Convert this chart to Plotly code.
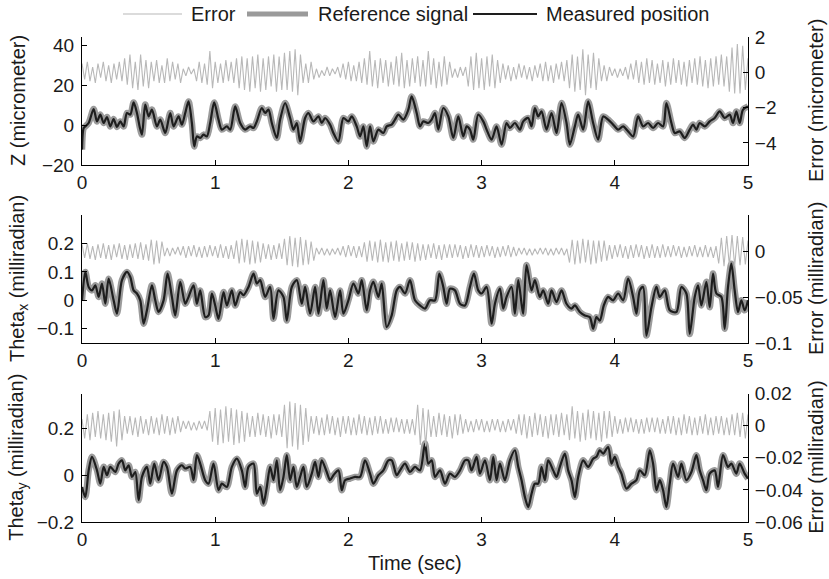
import plotly.graph_objects as go

# ---------------- data ----------------
# Panel 1: Z (micrometer) - measured position / reference signal
Z_t = [0, 0.0125, 0.025, 0.05, 0.0875, 0.1125, 0.1375, 0.1625, 0.1875, 0.2125,
       0.2375, 0.2625, 0.2875, 0.3125, 0.3375, 0.3625, 0.3875, 0.4125, 0.4325, 0.45,
       0.475, 0.5, 0.525, 0.5625, 0.5875, 0.625, 0.6625, 0.6875, 0.725, 0.75,
       0.775, 0.8, 0.825, 0.8425, 0.8625, 0.8875, 0.9125, 0.9375, 0.9625, 0.9925,
       1.025, 1.05, 1.0875, 1.1125, 1.15, 1.1875, 1.225, 1.2625, 1.2875, 1.3125,
       1.35, 1.375, 1.4, 1.425, 1.4625, 1.4875, 1.525, 1.5625, 1.5875, 1.6125,
       1.6375, 1.675, 1.7, 1.7375, 1.775, 1.8, 1.825, 1.8625, 1.8875, 1.925,
       1.9625, 2.0, 2.025, 2.0625, 2.0875, 2.1125, 2.1375, 2.1625, 2.1875, 2.225,
       2.2625, 2.2875, 2.325, 2.35, 2.375, 2.4125, 2.45, 2.475, 2.5125, 2.5375,
       2.5625, 2.6, 2.625, 2.65, 2.675, 2.7125, 2.75, 2.7875, 2.825, 2.8625,
       2.8875, 2.9125, 2.9375, 2.975, 3.0125, 3.0375, 3.075, 3.1125, 3.15, 3.1875,
       3.2125, 3.25, 3.2875, 3.3125, 3.35, 3.375, 3.4, 3.425, 3.45, 3.4875,
       3.525, 3.5625, 3.6, 3.6375, 3.6625, 3.7, 3.725, 3.7625, 3.8, 3.8375,
       3.875, 3.9125, 3.95, 3.9875, 4.025, 4.0625, 4.1, 4.1375, 4.175, 4.2125,
       4.25, 4.2875, 4.325, 4.3625, 4.3875, 4.425, 4.45, 4.4875, 4.525, 4.5625,
       4.5875, 4.6125, 4.6375, 4.675, 4.7125, 4.75, 4.7875, 4.825, 4.8625, 4.8875,
       4.9125, 4.9375, 4.9625, 5.0]
Z_meas = [-12.3, -1.5, -0.7, 1.0, 8.0, 1.8, 5.2, 1.0, 4.0, -0.7,
          3.0, -1.0, 1.8, -0.7, 6.0, 5.2, 11.3, 6.0, -0.7, -4.8,
          10.2, 4.3, 7.7, -0.7, 2.7, -4.0, 6.0, -0.7, 4.3, 0.2,
          6.0, 11.8, 1.0, -10.7, -5.7, -6.5, -4.8, -5.7, 1.0, 11.3,
          2.7, -2.3, -0.7, -2.3, 9.3, 1.0, -2.3, -0.7, -1.5, 1.8,
          8.5, 6.0, 7.7, 1.0, -6.5, 2.7, 11.0, 3.5, -2.3, 1.0,
          -8.2, 3.5, 6.0, 1.8, 4.3, 1.0, 3.5, 0.2, -4.0, -8.2,
          3.5, 1.8, 4.3, -0.7, -5.7, -0.7, -10.7, -0.7, -8.2, -2.3,
          -4.0, -0.7, 0.2, 2.7, 5.2, 2.7, 7.7, 14.3, 6.0, -0.7,
          1.8, 1.0, 2.7, 6.0, -2.3, 8.5, 4.3, -6.5, 4.3, -5.7,
          -0.7, -2.3, -7.3, 5.2, 1.8, -2.3, -7.3, -0.7, -9.8, 1.0,
          -1.5, 1.0, -2.3, 1.8, 3.5, -0.7, 8.5, 4.3, 6.8, -2.3,
          6.0, -4.0, 11.0, 1.0, -9.8, -0.7, 5.2, -2.3, 11.8, 1.0,
          -7.3, 4.3, 2.7, 0.2, -2.3, -0.7, -3.2, -5.7, 4.3, -0.7,
          1.0, -1.5, 1.0, -0.7, 11.0, 1.0, -4.0, -3.2, -6.5, -2.3,
          0.2, -2.3, 1.0, -0.7, 1.8, 3.5, 6.8, 3.5, 5.2, 1.0,
          6.8, 1.0, 7.7, 9.3]
Z_ref = list(Z_meas)

# Panel 2: Theta_x (milliradian)
TX_t = [0, 0.025, 0.05, 0.075, 0.1, 0.125, 0.15, 0.175, 0.2, 0.2375,
        0.2625, 0.3, 0.3375, 0.3625, 0.3875, 0.4125, 0.4375, 0.4625, 0.4875, 0.525,
        0.55, 0.575, 0.6125, 0.6425, 0.675, 0.7, 0.7375, 0.775, 0.8, 0.8375,
        0.8625, 0.8875, 0.925, 0.95, 0.975, 1.0, 1.025, 1.0625, 1.0875, 1.125,
        1.15, 1.1875, 1.2125, 1.25, 1.2875, 1.3125, 1.3375, 1.375, 1.4125, 1.4375,
        1.475, 1.5125, 1.5375, 1.575, 1.6125, 1.65, 1.675, 1.7125, 1.75, 1.775,
        1.8125, 1.8375, 1.8625, 1.9, 1.9375, 1.9625, 2.0, 2.0375, 2.075, 2.1,
        2.1375, 2.1625, 2.1875, 2.225, 2.25, 2.2875, 2.325, 2.3625, 2.3875, 2.425,
        2.4625, 2.5, 2.5375, 2.575, 2.6125, 2.65, 2.6825, 2.7125, 2.7375, 2.7625,
        2.8, 2.8375, 2.875, 2.9125, 2.9425, 2.975, 3.0, 3.0375, 3.075, 3.1,
        3.1375, 3.1625, 3.1875, 3.225, 3.25, 3.275, 3.3, 3.3125, 3.3375, 3.375,
        3.4, 3.4375, 3.4625, 3.5, 3.525, 3.5625, 3.6, 3.6375, 3.675, 3.7,
        3.7375, 3.775, 3.8125, 3.8375, 3.8625, 3.8875, 3.9175, 3.95, 3.9875, 4.025,
        4.0625, 4.1, 4.1375, 4.1625, 4.1875, 4.2125, 4.2375, 4.275, 4.3125, 4.3375,
        4.375, 4.4125, 4.4625, 4.5, 4.5375, 4.5625, 4.6, 4.625, 4.65, 4.6875,
        4.7125, 4.7375, 4.7625, 4.8, 4.825, 4.85, 4.875, 4.9, 4.925, 4.95,
        4.975, 5.0]
TX_meas = [0, 0.1, 0.047, 0.035, 0.053, 0.012, 0.059, -0.012, 0.076, 0,
           -0.047, 0.071, 0.1, 0.082, 0.035, 0.024, 0, -0.082, -0.035, 0.053,
           0, -0.041, 0, 0.094, 0.012, -0.053, 0.065, -0.012, 0.012, 0.053,
           -0.012, 0.035, -0.059, -0.053, 0.024, -0.018, -0.065, 0.029, -0.018, 0.035,
           -0.018, 0.029, 0.018, 0.047, 0.094, 0.059, 0.071, 0.012, 0.047, -0.065,
           0.035, 0.012, -0.071, 0.047, 0.071, -0.012, 0.047, -0.047, 0.047, -0.047,
           0.071, -0.029, 0.035, -0.059, 0.035, -0.047, 0, 0.059, 0.024, 0.071,
           -0.035, 0.035, 0.065, 0.012, 0.059, -0.094, -0.053, 0.035, 0.047, 0.024,
           0.071, 0, -0.018, -0.029, 0, 0, 0.094, 0.047, -0.012, 0.041,
           0.035, -0.012, -0.018, 0.047, 0.094, 0.035, 0.024, 0.047, -0.082, -0.012,
           0.041, -0.029, 0.012, 0.047, -0.047, 0.071, -0.012, -0.047, 0.124, 0.035,
           0.071, 0.012, 0.035, -0.012, 0.035, -0.006, 0.035, -0.012, -0.029, -0.018,
           -0.041, -0.053, -0.059, -0.1, -0.059, -0.071, -0.018, 0.012, 0, 0.024,
           0, 0.076, 0.012, -0.047, 0.035, 0.047, -0.124, -0.024, 0.047, 0.012,
           0.035, -0.035, -0.041, 0.047, 0.024, -0.118, 0.012, 0.053, -0.018, 0.065,
           -0.024, 0.094, 0.024, 0.012, -0.1, 0.047, 0.129, 0.035, -0.041, 0,
           -0.035, 0]
TX_ref = list(TX_meas)

# Panel 3: Theta_y (milliradian)
TY_t = [0, 0.025, 0.05, 0.075, 0.1125, 0.1375, 0.1625, 0.1875, 0.2125, 0.25,
        0.275, 0.3, 0.325, 0.35, 0.375, 0.4, 0.425, 0.45, 0.4875, 0.5125,
        0.5425, 0.575, 0.6125, 0.6375, 0.675, 0.7125, 0.75, 0.775, 0.8125, 0.8375,
        0.8625, 0.8875, 0.925, 0.95, 0.9875, 1.025, 1.05, 1.0875, 1.125, 1.1625,
        1.2, 1.225, 1.25, 1.2875, 1.3125, 1.3375, 1.3625, 1.3875, 1.4125, 1.4375,
        1.4625, 1.4875, 1.5125, 1.5375, 1.5625, 1.5875, 1.6125, 1.6375, 1.6625, 1.6875,
        1.725, 1.75, 1.775, 1.8, 1.8375, 1.8625, 1.8875, 1.925, 1.95, 1.975,
        2.0125, 2.05, 2.0875, 2.125, 2.1625, 2.1875, 2.225, 2.2625, 2.3, 2.325,
        2.3625,
        2.3875, 2.425, 2.4625, 2.5, 2.5375, 2.575, 2.6, 2.625, 2.65, 2.6875,
        2.725, 2.7625, 2.8, 2.8375, 2.875, 2.9, 2.925, 2.9625, 2.9875, 3.025,
        3.0625, 3.0875, 3.1125, 3.1375, 3.175, 3.2125, 3.25, 3.275, 3.3, 3.325,
        3.35, 3.375, 3.4, 3.425, 3.45, 3.475, 3.5, 3.5375, 3.5625, 3.5875,
        3.625, 3.65, 3.675, 3.7, 3.725, 3.7625, 3.8, 3.8375, 3.8625, 3.8875,
        3.9125, 3.95, 3.975, 4.0, 4.025, 4.05, 4.0875, 4.125, 4.1625, 4.1875,
        4.225, 4.2625, 4.2875, 4.3125, 4.3375, 4.3625, 4.3875, 4.4125, 4.4375, 4.475,
        4.5, 4.5375, 4.575, 4.6125, 4.6375, 4.6625, 4.6875, 4.7125, 4.75, 4.775,
        4.8125, 4.85, 4.875, 4.9125, 4.9375, 4.975, 5.0]
TY_meas = [-0.05, -0.093, 0.021, 0.079, 0.021, -0.036, 0.036, 0, 0.036, 0.014,
           0.05, 0.064, 0.021, 0.043, -0.007, 0.014, -0.107, -0.007, 0.036, -0.036,
           0.05, -0.021, 0.057, 0.036, -0.079, 0.021, 0.043, 0.029, 0.036, -0.021,
           0.086, 0.05, -0.021, -0.036, 0.05, -0.064, -0.036, -0.05, 0.036, 0.071,
           0.021, -0.05, 0.036, 0.05, -0.079, -0.05, -0.121, -0.05, 0.036, -0.021,
           0.064, -0.064, -0.007, 0.086, -0.021, 0.036, -0.05, -0.007, 0.036, -0.05,
           0.007, 0.057, -0.007, 0.064, 0.014, -0.021, 0, 0.021, -0.064, -0.021,
           -0.014, -0.007, -0.007, 0.064, 0.007, -0.036, 0, 0.021, 0.064, 0.064,
           0,
           0.021, 0.05, 0.014, 0.036, 0.021, 0.136, 0.05, 0.064, -0.007, 0.021,
           -0.036, 0.007, -0.007, 0.021, 0.064, 0.064, 0.021, 0.079, 0.007, 0.064,
           -0.021, 0.079, -0.021, 0.05, -0.021, 0.064, 0.107, 0.036, -0.021, -0.093,
           -0.136, -0.079, -0.036, -0.036, 0.036, -0.021, 0.064, 0.021, -0.007, 0.036,
           0.093, 0.021, -0.021, -0.093, -0.007, 0.064, 0.036, 0.071, 0.079, 0.107,
           0.093, 0.121, 0.05, 0.079, 0.036, 0.007, -0.057, -0.036, -0.021, 0.021,
           0, 0.107, 0.05, -0.064, -0.021, -0.064, -0.136, -0.036, 0.05, -0.007,
           0.05, -0.021, 0.014, 0.086, 0.021, -0.021, -0.064, 0.007, 0.021, -0.05,
           0.086, 0.036, 0.05, 0.007, 0.05, 0.007, -0.014]
TY_ref = list(TY_meas)

ERR_DT = 0.02
E_z = [0.5, -0.4, 0.6, -0.5, 0.3, -0.6, 0.5, -0.3, 0.6, -0.5, 0.4, -0.6, 0.5, -0.4, 0.6, -0.5,
       0.8, -0.7, 1.0, -0.9, 0.6, -1.0, 1.0, -0.8, 0.7, -0.9,
       0.6, -0.5, 0.7, -0.6, 0.4, -0.6, 0.8, -0.5, 0.6, -0.4, 0.5, -0.6,
       0.2, -0.2, 0.3, -0.1, 0.2,
       -0.5, 0.6, -0.6, 0.5, -0.7, 1.2, -0.9, 0.6,
       -0.6, 0.5, -0.6, 0.7, -0.5, 0.6, -0.6,
       0.8, -0.9, 0.9, -1.0, 0.8, -1.1, 0.9, -0.9, 1.0, -1.1, 0.8, -1.0, 0.9, -0.8, 1.0, -1.1, 0.9, -1.0,
       1.1, -1.0, 1.2, -1.1, 1.3, -1.3, 1.0,
       -0.6, 0.5, -0.6, 0.6, -0.4,
       0.2, -0.3, 0.1, -0.2, 0.3, -0.2, 0.2, -0.1, 0.3, -0.3,
       0.5, -0.4, 0.6, -0.5, 0.4, -0.5, 0.6, -0.6,
       0.8, -0.7, 1.2, -0.8, 0.7, -0.9, 0.8, -0.6, 0.7, -0.8, 0.6, -0.7, 0.9, -0.8, 1.1, -0.9, 0.7, -0.8, 0.8, -0.6, 0.9, -0.8,
       0.7, -0.8, 1.2, -0.7, 0.8, -0.9, 0.6, -0.8, 0.9, -0.7, 0.6,
       -0.3, 0.2, -0.3, 0.3, -0.2, 0.3,
       -0.8, 0.9, -1.0, 1.1, -0.9, 0.8, -1.0, 0.9, -0.8, 1.0, -0.9, 0.7, -0.6,
       0.5, -0.4, 0.4, -0.5, 0.3, -0.4, 0.5, -0.3, 0.4, -0.4, 0.3, -0.5, 0.4, -0.3, 0.5,
       -0.5, 0.6, -0.5, 0.4, -0.6, 0.5, -0.4, 0.6, -0.5, 0.7,
       -0.9, 1.0, -1.1, 0.9, -1.0, 1.3, -1.3, 1.0, -0.9, 1.1, -1.0, 0.8,
       -0.5, 0.4, -0.5, 0.3, -0.2, 0.2, -0.3, 0.2, -0.2, 0.3, -0.4, 0.5, -0.4,
       0.7, -0.6, 0.6, -0.7, 0.8, -0.6, 0.7, -0.7, 0.5, -0.6, 0.7, -0.8, 0.6, -0.7, 0.8, -0.6, 0.7, -0.7, 0.6, -0.8, 0.7, -0.6,
       0.8, -0.7, 0.9, -0.8, 0.7, -0.9, 0.8, -0.8, 0.9, -0.7, 1.0, -0.8, 0.9,
       -1.1, 1.4, -1.2, 1.6, -1.2, 1.5, -1.0, 0.8]
E_tx = [0.008, -0.007, 0.009, -0.008, 0.006, -0.009, 0.008, -0.007, 0.009, -0.008, 0.007, -0.009, 0.008,
        -0.006, 0.009, -0.008, 0.007, -0.009, 0.008, -0.007, 0.009, -0.008, 0.010, -0.009, 0.008, -0.010,
        0.013, -0.014, 0.012, -0.013, 0.011,
        -0.005, 0.004, -0.005, 0.004, -0.003, 0.005, -0.004,
        0.006, -0.007, 0.006, -0.005, 0.007, -0.006, 0.005, -0.007, 0.006, -0.006, 0.007, -0.005, 0.006,
        -0.007, 0.008, -0.007, 0.006, -0.008, 0.007, -0.008,
        0.012, -0.013, 0.014, -0.012, 0.013, -0.014, 0.012, -0.013, 0.011, -0.012,
        0.009, -0.008, 0.008, -0.009, 0.007, -0.008, 0.009, -0.008,
        0.014, -0.015, 0.017, -0.016, 0.015, -0.017, 0.016, -0.015, 0.013, -0.014, 0.011, -0.010,
        0.004, -0.003, 0.004, -0.004, 0.003, -0.004, 0.003, -0.003, 0.004, -0.004,
        0.006, -0.006, 0.007, -0.005, 0.006, -0.007, 0.006, -0.006,
        0.010, -0.011, 0.012, -0.010, 0.011, -0.012, 0.013, -0.011, 0.010, -0.012, 0.011,
        -0.010, 0.012, -0.011, 0.009, -0.010, 0.011, -0.009, 0.010, -0.011, 0.009, -0.010,
        0.008, -0.009, 0.008, -0.007, 0.009, -0.008, 0.007, -0.009, 0.008, -0.007, 0.008,
        -0.007, 0.008, -0.006, 0.007, -0.008, 0.006, -0.007, 0.008, -0.006, 0.007, -0.007, 0.006,
        -0.006, 0.007, -0.005, 0.006, -0.007, 0.005, -0.006, 0.006, -0.005, 0.007, -0.006, 0.005, -0.005,
        0.004, -0.003, 0.004, -0.004, 0.003, -0.004, 0.003, -0.003, 0.004, -0.003, 0.004, -0.004,
        0.003, -0.004, 0.004, -0.003, 0.004, -0.004, 0.003,
        -0.012, 0.013, -0.014, 0.012, -0.013, 0.014, -0.012, 0.013, -0.014, 0.012, -0.013, 0.012,
        -0.011, 0.012, -0.010,
        0.007, -0.008, 0.007, -0.006, 0.008, -0.007, 0.006, -0.008, 0.007, -0.007, 0.008,
        -0.006, 0.007, -0.008, 0.006, -0.007, 0.008, -0.007, 0.006, -0.007, 0.008, -0.006,
        0.006, -0.006, 0.007, -0.005, 0.006, -0.007, 0.005, -0.006, 0.006, -0.005,
        0.007, -0.006, 0.005, -0.006, 0.007, -0.006, 0.005, -0.007, 0.006,
        -0.013, 0.015, -0.016, 0.017, -0.015, 0.018, -0.016, 0.017, -0.015, 0.016, -0.014, 0.012]
E_ty = [0.004, -0.008, 0.007, -0.009, 0.008, -0.007, 0.009, -0.008, 0.007, -0.009, 0.008,
        -0.010, 0.009, -0.013, 0.010, -0.009,
        0.006, -0.005, 0.006, -0.006, 0.005, -0.007, 0.006, -0.005, 0.004, -0.006, 0.006,
        -0.005, 0.005, -0.006, 0.007, -0.005, 0.006, -0.006, 0.005, -0.005, 0.006, -0.004,
        0.003, -0.002, 0.003, -0.003, 0.002, -0.003, 0.003, -0.002, 0.003, -0.003,
        0.009, -0.010, 0.011, -0.012, 0.010, -0.011, 0.012, -0.010, 0.011, -0.012, 0.010,
        -0.011, 0.009, -0.010, 0.008,
        -0.007, 0.006, -0.007, 0.008, -0.006, 0.007, -0.007, 0.006, -0.008, 0.007, -0.006, 0.007, -0.007,
        0.013, -0.014, 0.015, -0.013, 0.014, -0.015, 0.013, -0.012, 0.011, -0.010,
        0.006, -0.005, 0.006, -0.006, 0.005, -0.006, 0.007, -0.005, 0.006, -0.006, 0.005, -0.007,
        0.006, -0.005, 0.006, -0.006, 0.005, -0.006, 0.007, -0.005, 0.006, -0.006, 0.005, -0.006,
        0.006, -0.005, 0.006,
        -0.005, 0.004, -0.005, 0.005, -0.004, 0.005, -0.004, 0.004, -0.005, 0.004, -0.005, 0.004, -0.006,
        0.013, -0.012, 0.011, -0.013, 0.010,
        -0.007, 0.006, -0.007, 0.008, -0.006, 0.007, -0.007, 0.006, -0.008, 0.007, -0.006, 0.007, -0.005, 0.004,
        -0.004, 0.003, -0.004, 0.004, -0.003, 0.004, -0.004, 0.003, -0.004, 0.004, -0.003, 0.004,
        -0.004, 0.003, -0.004, 0.004, -0.003, 0.004, -0.005,
        0.007, -0.006, 0.007, -0.008, 0.006, -0.007, 0.008, -0.006, 0.007, -0.007, 0.006, -0.008,
        0.007, -0.006, 0.007, -0.007, 0.008, -0.006, 0.007,
        -0.009, 0.012, -0.008, 0.009, -0.010, 0.008, -0.009, 0.010, -0.008, 0.009, -0.009, 0.008,
        -0.010, 0.009, -0.008, 0.009, -0.007, 0.006,
        -0.005, 0.004, -0.005, 0.005, -0.004, 0.005, -0.004, 0.004, -0.005, 0.004, -0.005, 0.005,
        -0.004, 0.005, -0.004, 0.005, -0.005, 0.004, -0.005,
        0.006, -0.005, 0.006, -0.006, 0.005, -0.006, 0.007, -0.005, 0.006, -0.006, 0.005, -0.006, 0.006,
        -0.005, 0.007, -0.006, 0.005, -0.006, 0.006, -0.005, 0.006, -0.006, 0.005, -0.006, 0.007, -0.006,
        0.008, -0.007, 0.008, -0.008, 0.007]

X_TICKS = [0, 1, 2, 3, 4, 5]
LEFT_TICKS = [[-20, 0, 20, 40], [-0.1, 0, 0.1, 0.2], [-0.2, 0, 0.2]]
LEFT_TEXT = [["−20", "0", "20", "40"], ["−0.1", "0", "0.1", "0.2"], ["−0.2", "0", "0.2"]]
RIGHT_TICKS = [[-4, -2, 0, 2], [-0.1, -0.05, 0], [-0.06, -0.04, -0.02, 0, 0.02]]
RIGHT_TEXT = [["−4", "−2", "0", "2"], ["−0.1", "−0.05", "0"], ["−0.06", "−0.04", "−0.02", "0", "0.02"]]
LEFT_RANGE = [[-20, 44], [-0.15, 0.3], [-0.2, 0.35]]
RIGHT_RANGE = [[-5.25, 2.0], [-0.1, 0.04], [-0.06, 0.02]]
LEFT_TITLES = ["Z (micrometer)", "Theta<sub>x</sub> (milliradian)", "Theta<sub>y</sub> (milliradian)"]
RIGHT_TITLES = ["Error (micrometer)", "Error (milliradian)", "Error (milliradian)"]
LEGEND_NAMES = ["Error", "Reference signal", "Measured position"]

# ---------------- styling / layout ----------------
W, H = 829, 579
ML, MR, MT, MB = 82, 81, 37, 57
PW, PH = W - ML - MR, H - MT - MB
FONT = "Liberation Sans, Arial, Helvetica, sans-serif"
TXT = "#1a1a1a"
ERR_COL = "#b8b8b8"
REF_COL = "#8a8a8a"
MEAS_COL = "#1e1e1e"
TICK_SIZE = 19
TITLE_SIZE = 20

def py2paper(py):
    return 1 - (py - MT) / PH

def px2paper(px):
    return (px - ML) / PW

panel_px = [(37, 165), (215, 343), (393.5, 522)]
domains = [[py2paper(b), py2paper(t)] for (t, b) in panel_px]
domains[2][0] = max(0, domains[2][0])

fig = go.Figure()

series = [(Z_t, Z_meas, Z_ref, E_z), (TX_t, TX_meas, TX_ref, E_tx), (TY_t, TY_meas, TY_ref, E_ty)]
for i, (tt, meas, ref, err) in enumerate(series):
    xa = "x" if i == 0 else f"x{i+1}"
    yl = "y" if i == 0 else f"y{2*i+1}"
    yr = f"y{2*i+2}"
    te = [k * ERR_DT for k in range(len(err))]
    fig.add_trace(go.Scatter(x=te, y=err, xaxis=xa, yaxis=yr, mode="lines",
                             line=dict(color=ERR_COL, width=1.1), name=LEGEND_NAMES[0],
                             showlegend=False, hoverinfo="skip"))
    fig.add_trace(go.Scatter(x=tt, y=ref, xaxis=xa, yaxis=yl, mode="lines",
                             line=dict(color=REF_COL, width=6.5, shape="spline", smoothing=0.8),
                             opacity=0.85, name=LEGEND_NAMES[1], showlegend=False, hoverinfo="skip"))
    fig.add_trace(go.Scatter(x=tt, y=meas, xaxis=xa, yaxis=yl, mode="lines",
                             line=dict(color=MEAS_COL, width=2.2, shape="spline", smoothing=0.8),
                             name=LEGEND_NAMES[2], showlegend=False, hoverinfo="skip"))

axis_common = dict(showline=True, linecolor="black", linewidth=1, ticks="inside", ticklen=5,
                   tickcolor="black", showgrid=False, zeroline=False,
                   tickfont=dict(family=FONT, size=TICK_SIZE, color=TXT))
layout = dict(width=W, height=H, margin=dict(l=ML, r=MR, t=MT, b=MB),
              paper_bgcolor="white", plot_bgcolor="white", showlegend=False,
              font=dict(family=FONT, size=TICK_SIZE, color=TXT))
for i in range(3):
    xk = "xaxis" if i == 0 else f"xaxis{i+1}"
    ylk = "yaxis" if i == 0 else f"yaxis{2*i+1}"
    yrk = f"yaxis{2*i+2}"
    ylname = "y" if i == 0 else f"y{2*i+1}"
    xname = "x" if i == 0 else f"x{i+1}"
    layout[xk] = dict(axis_common, domain=[0, 1], anchor=ylname, range=[0, 5],
                      tickvals=X_TICKS, ticktext=[str(v) for v in X_TICKS])
    layout[ylk] = dict(axis_common, domain=domains[i], anchor=xname, range=LEFT_RANGE[i],
                       tickvals=LEFT_TICKS[i], ticktext=LEFT_TEXT[i], side="left",
                       ticklabelstandoff=3)
    layout[yrk] = dict(axis_common, overlaying=ylname, anchor=xname, side="right",
                       range=RIGHT_RANGE[i], tickvals=RIGHT_TICKS[i], ticktext=RIGHT_TEXT[i],
                       ticklabelstandoff=2)
fig.update_layout(**layout)

ann = []
for i in range(3):
    t, b = panel_px[i]
    yc = py2paper((t + b) / 2)
    ann.append(dict(text=LEFT_TITLES[i], xref="paper", yref="paper", x=px2paper(18), y=yc,
                    textangle=-90, showarrow=False, xanchor="center", yanchor="middle",
                    font=dict(family=FONT, size=TITLE_SIZE, color=TXT)))
    ann.append(dict(text=RIGHT_TITLES[i], xref="paper", yref="paper", x=px2paper(816), y=yc,
                    textangle=-90, showarrow=False, xanchor="center", yanchor="middle",
                    font=dict(family=FONT, size=TITLE_SIZE, color=TXT)))
ann.append(dict(text="Time (sec)", xref="paper", yref="paper", x=px2paper(415), y=py2paper(563),
                showarrow=False, xanchor="center", yanchor="middle",
                font=dict(family=FONT, size=TITLE_SIZE, color=TXT)))

# legend (drawn at the top, like the original)
leg_y = py2paper(14)
leg_items = [(123, 182, ERR_COL, 1.2, 189), (247, 308, "#9a9a9a", 5, 316), (473, 537, MEAS_COL, 2, 544)]
shapes = []
for (x0, x1, col, wd, tx), name in zip(leg_items, LEGEND_NAMES):
    shapes.append(dict(type="line", xref="paper", yref="paper", x0=px2paper(x0), x1=px2paper(x1),
                       y0=leg_y, y1=leg_y, line=dict(color=col, width=wd)))
    ann.append(dict(text=name, xref="paper", yref="paper", x=px2paper(tx), y=leg_y,
                    showarrow=False, xanchor="left", yanchor="middle",
                    font=dict(family=FONT, size=TITLE_SIZE, color=TXT)))
fig.update_layout(annotations=ann, shapes=shapes)

fig.write_html("out.html", config={"displayModeBar": False},
               post_script="document.body.style.margin='0';document.body.style.padding='0';"
                           "document.documentElement.style.overflow='hidden';")
